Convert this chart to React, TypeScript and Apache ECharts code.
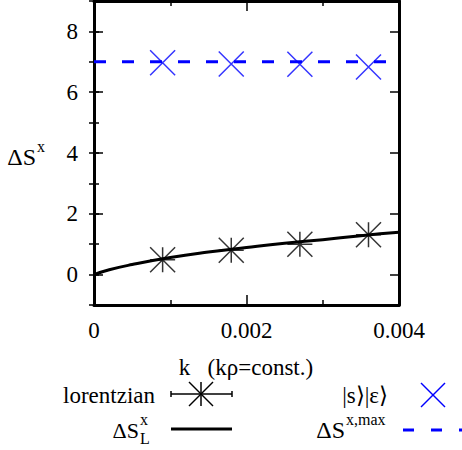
import React, { useEffect, useRef } from "react";
import * as echarts from "echarts";

const kValues = [0.0009, 0.0018, 0.0027, 0.0036];
const lorentzian = [0.49, 0.8, 1.0, 1.31];
const sEps = [6.97, 6.93, 6.92, 6.83];
const curveK = [0, 0.0002, 0.0005, 0.001, 0.0015, 0.002, 0.0025, 0.003, 0.0035, 0.004];
const curveS = [0, 0.16, 0.33, 0.56, 0.74, 0.89, 1.03, 1.15, 1.28, 1.39];
const maxK = [0, 0.004];
const maxS = [7, 7];
const yMajor = [0, 2, 4, 6, 8];

const FONT = "'Liberation Serif', 'Times New Roman', serif";
const STAR = "path://M-1,-1L1,1M-1,1L1,-1M0,-1L0,1M-1,0L1,0";
const CROSS = "path://M-1,-1L1,1M-1,1L1,-1";

function txt(x: number, y: number, text: string, size: number, align: string, color = "#000") {
  return {
    type: "text",
    x,
    y,
    silent: true,
    style: {
      text,
      fill: color,
      fontFamily: FONT,
      fontSize: size,
      textAlign: align,
      align,
      textVerticalAlign: "middle",
      verticalAlign: "middle",
    },
  };
}

function seg(x1: number, y1: number, x2: number, y2: number, color: string, w: number, dash?: number[]) {
  return {
    type: "line",
    silent: true,
    shape: { x1, y1, x2, y2 },
    style: { stroke: color, lineWidth: w, lineDash: dash },
  };
}

export default function App() {
  const ref = useRef<HTMLDivElement>(null);
  useEffect(() => {
    if (!ref.current) return;
    const chart = echarts.init(ref.current, undefined, { renderer: "svg" });
    const axisLine = { show: true, onZero: false, lineStyle: { color: "#000", width: 3 } };
    const yBase = { type: "value", min: -1, max: 9, splitLine: { show: false } };
    const xBase = {
      type: "value",
      min: 0,
      max: 0.004,
      interval: 0.002,
      splitLine: { show: false },
      axisLine,
      axisTick: { show: true, inside: true, length: 10, lineStyle: { color: "#000", width: 1.5 } },
      minorTick: { show: true, splitNumber: 2, length: 5, lineStyle: { color: "#000", width: 1.5 } },
    };
    const legendStarX = 201, legendY1 = 394;
    const star = [
      seg(legendStarX - 12, legendY1 - 12, legendStarX + 12, legendY1 + 12, "#000", 1.5),
      seg(legendStarX - 12, legendY1 + 12, legendStarX + 12, legendY1 - 12, "#000", 1.5),
      seg(legendStarX, legendY1 - 12, legendStarX, legendY1 + 12, "#000", 1.5),
    ];
    chart.setOption({
      animation: false,
      textStyle: { fontFamily: FONT },
      grid: { left: 94, top: 1, width: 305, height: 304 },
      xAxis: [
        {
          ...xBase,
          position: "bottom",
          axisLabel: {
            margin: 14,
            fontFamily: FONT,
            fontSize: 23,
            color: "#000",
            formatter: (v: number) => (v === 0 ? "0" : v.toFixed(3)),
          },
        },
        { ...xBase, position: "top", axisLabel: { show: false } },
      ],
      yAxis: [
        {
          ...yBase,
          position: "left",
          axisLine,
          axisTick: { show: true, inside: true, length: 9, customValues: yMajor, lineStyle: { color: "#000", width: 1.5 } },
          axisLabel: { customValues: yMajor, margin: 16, fontFamily: FONT, fontSize: 23, color: "#000" },
        },
        {
          ...yBase,
          interval: 1,
          position: "left",
          axisLine: { show: false },
          axisTick: { show: true, inside: true, length: 5, lineStyle: { color: "#000", width: 1.5 } },
          axisLabel: { show: false },
        },
        {
          ...yBase,
          position: "right",
          axisLine,
          axisTick: { show: true, inside: true, length: 9, customValues: yMajor, lineStyle: { color: "#000", width: 1.5 } },
          axisLabel: { show: false, customValues: yMajor },
        },
        {
          ...yBase,
          interval: 1,
          position: "right",
          axisLine: { show: false },
          axisTick: { show: true, inside: true, length: 5, lineStyle: { color: "#000", width: 1.5 } },
          axisLabel: { show: false },
        },
      ],
      series: [
        {
          type: "line",
          data: maxK.map((k, i) => [k, maxS[i]]),
          showSymbol: false,
          lineStyle: { color: "#0000ff", width: 3, type: [12, 16] },
          z: 2,
        },
        {
          type: "line",
          data: curveK.map((k, i) => [k, curveS[i]]),
          smooth: true,
          showSymbol: false,
          lineStyle: { color: "#000", width: 3 },
          z: 2,
        },
        {
          type: "scatter",
          data: kValues.map((k, i) => [k, lorentzian[i]]),
          symbol: STAR,
          symbolSize: 25,
          itemStyle: { color: "rgba(0,0,0,0)", borderColor: "#000", borderWidth: 1.5 },
          z: 3,
        },
        {
          type: "scatter",
          data: kValues.map((k, i) => [k, sEps[i]]),
          symbol: CROSS,
          symbolSize: 25,
          itemStyle: { color: "rgba(0,0,0,0)", borderColor: "#0000ff", borderWidth: 1.5 },
          z: 3,
        },
      ],
      graphic: [
        txt(36, 157, "ΔS", 24, "right"),
        txt(37, 146, "x", 16, "left"),
        txt(246, 367, "k\u00a0\u00a0\u00a0(kρ=const.)", 23, "center"),
        txt(155, 395, "lorentzian", 23, "right"),
        seg(171, legendY1, 232, legendY1, "#000", 1.5),
        seg(171, legendY1 - 3, 171, legendY1 + 3, "#000", 1.5),
        seg(232, legendY1 - 3, 232, legendY1 + 3, "#000", 1.5),
        ...star,
        txt(388, 395, "|s⟩|ε⟩", 23, "right"),
        seg(421, 383, 445, 407, "#0000ff", 1.5),
        seg(421, 407, 445, 383, "#0000ff", 1.5),
        txt(139, 430, "ΔS", 22, "right"),
        txt(140, 419, "x", 16, "left"),
        txt(140, 438, "L", 16, "left"),
        seg(171, 429, 232, 429, "#000", 3),
        txt(345, 430, "ΔS", 24, "right"),
        txt(346, 419, "x,max", 16, "left"),
        seg(403, 430, 462, 430, "#0000ff", 3, [11, 17]),
      ],
    });
    return () => chart.dispose();
  }, []);
  return (
    <div
      ref={ref}
      style={{ position: "fixed", left: 0, top: 0, width: 462, height: 450, background: "#fff" }}
    />
  );
}
